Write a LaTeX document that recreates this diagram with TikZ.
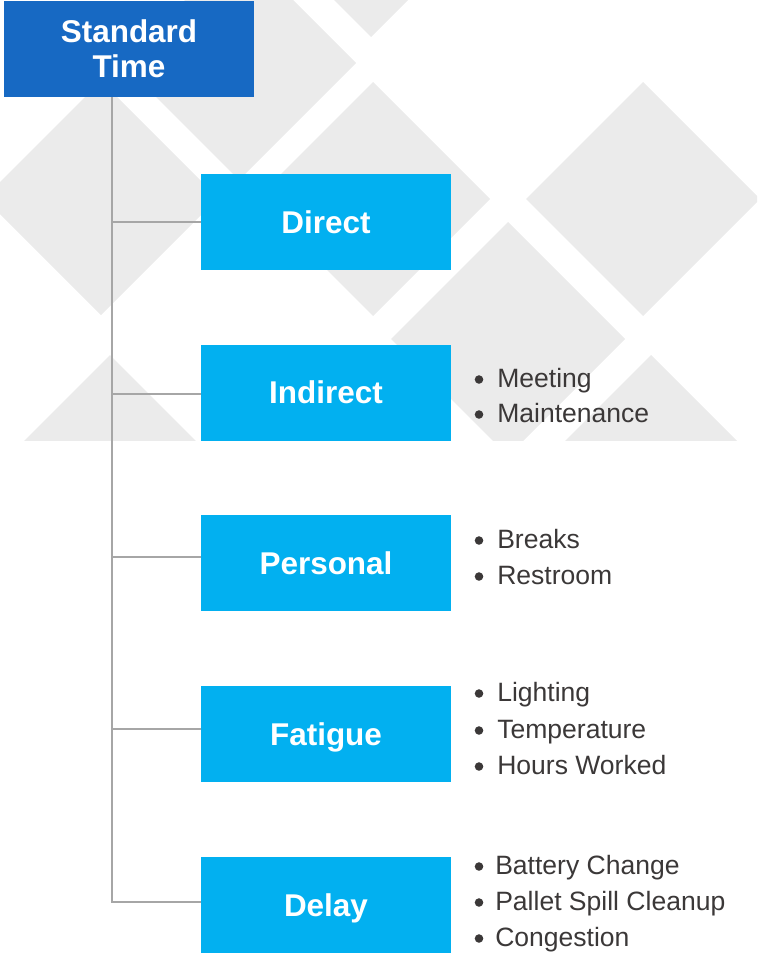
\documentclass[tikz,border=0pt]{standalone}
\usepackage{fontspec}
\setmainfont{Liberation Sans}

\definecolor{stblue}{HTML}{1769C3}
\definecolor{catblue}{HTML}{02B0F0}
\definecolor{diamondgray}{HTML}{EBEBEB}
\definecolor{linegray}{HTML}{A6A6A6}
\definecolor{itemgray}{HTML}{3B3838}

\pgfdeclarelayer{decor}
\pgfdeclarelayer{links}
\pgfsetlayers{decor,links,main}

% background diamond: centre (x,y), half diagonal 117
\newcommand\greydiamond[2]{%
  \fill[bgshape] (#1,#2) ++(-117,0) -- ++(117,-117) -- ++(117,117) -- ++(-117,117) -- cycle;}

% one bulleted line: node name, x, baseline, text
\newcommand\listline[4]{%
  \fill[bulletdot] (479,#3-7.5) circle (3.2pt);
  \node[itemtext] (#1) at (#2,#3) {#4};}

\begin{document}
\begin{tikzpicture}[x=0.75pt,y=-0.75pt,
  bgshape/.style={fill=diamondgray},
  topbox/.style={fill=stblue, text=white, inner sep=0pt,
    minimum width=187.5pt, minimum height=72pt, align=center,
    font=\bfseries\fontsize{23.6}{25.9}\selectfont},
  catbox/.style={fill=catblue, text=white, inner sep=0pt,
    minimum width=187.5pt, minimum height=72pt,
    text height=16.5pt, text depth=0pt,
    font=\bfseries\fontsize{23.6}{25.9}\selectfont},
  connector/.style={draw=linegray, line width=1.5pt},
  itemtext/.style={anchor=base west, inner sep=0pt, text=itemgray,
    font=\fontsize{19.9}{24}\selectfont},
  bulletdot/.style={fill=itemgray}]
\useasboundingbox (0,0) rectangle (757,953);

% decorative diamonds behind the upper half
\begin{pgfonlayer}{decor}
\begin{scope}
  \clip (0,0) rectangle (757,440);
  \greydiamond{371}{-80}
  \greydiamond{239}{63}
  \greydiamond{101}{198}
  \greydiamond{373}{199}
  \greydiamond{643}{199}
  \greydiamond{508}{339}
  \greydiamond{110}{472}
  \greydiamond{651}{472}
\end{scope}
\end{pgfonlayer}

% boxes
\node[topbox] (std) at (129,49) {Standard\\Time};
\node[catbox] (direct)   at (326,222)   {Direct};
\node[catbox] (indirect) at (326,392.5) {Indirect};
\node[catbox] (personal) at (326,563)   {Personal};
\node[catbox] (fatigue)  at (326,734)   {Fatigue};
\node[catbox] (delay)    at (326,905)   {Delay};

% tree connectors
\coordinate (jD) at (112,222);
\coordinate (jI) at (112,394);
\coordinate (jP) at (112,557);
\coordinate (jF) at (112,729);
\coordinate (jL) at (112,902);
\begin{pgfonlayer}{links}
\draw[connector] (jL |- std.south) -- (jL) -- (jL -| delay.west);
\draw[connector] (jD) -- (jD -| direct.west);
\draw[connector] (jI) -- (jI -| indirect.west);
\draw[connector] (jP) -- (jP -| personal.west);
\draw[connector] (jF) -- (jF -| fatigue.west);
\end{pgfonlayer}

% bullet lists
\listline{m1}{497}{387}{Meeting}
\listline{m2}{497}{422}{Maintenance}
\listline{p1}{497}{548}{Breaks}
\listline{p2}{497}{584}{Restroom}
\listline{f1}{497}{701}{Lighting}
\listline{f2}{497}{738}{Temperature}
\listline{f3}{497}{774}{Hours Worked}
\listline{d1}{495}{874}{Battery Change}
\listline{d2}{495}{910}{Pallet Spill Cleanup}
\listline{d3}{495}{946}{Congestion}
\end{tikzpicture}
\end{document}
